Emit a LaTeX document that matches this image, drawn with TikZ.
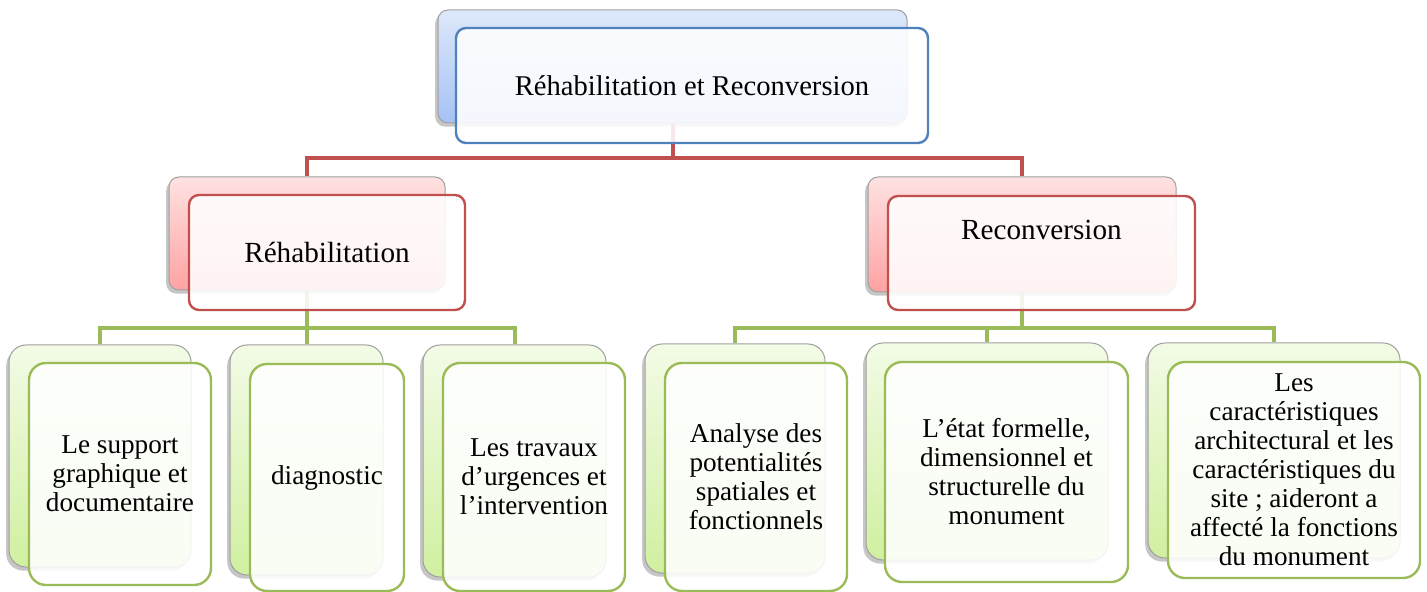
\documentclass[tikz,border=0pt]{standalone}
\usepackage{fontspec}
\setmainfont{Liberation Serif}
\usepackage{tikz}
\usetikzlibrary{backgrounds,shadows}

\definecolor{blueline}{HTML}{4F81BD}
\definecolor{redline}{HTML}{C0504D}
\definecolor{greenline}{HTML}{9BBB59}
\definecolor{blueA}{HTML}{DDE8FA}
\definecolor{blueB}{HTML}{A6C2F5}
\definecolor{redA}{HTML}{FFE2E2}
\definecolor{redB}{HTML}{FFA2A2}
\definecolor{greenA}{HTML}{F3FBE6}
\definecolor{greenB}{HTML}{D0F0A0}

\begin{document}
\begin{tikzpicture}[
  x=0.5pt, y=-0.5pt,
  back/.style={draw=gray!75, line width=0.5pt, rounded corners=5pt, inner sep=0pt,
    drop shadow={shadow xshift=-1.4pt, shadow yshift=-1.8pt, opacity=0.45}},
  front/.style={line width=1.2pt, rounded corners=5pt, fill=white, fill opacity=0.88,
    text opacity=1, inner sep=0pt, align=center},
  bback/.style={back, top color=blueA, bottom color=blueB},
  rback/.style={back, top color=redA, bottom color=redB},
  gback/.style={back, top color=greenA, bottom color=greenB, rounded corners=8.5pt},
  bfront/.style={front, draw=blueline, font=\fontsize{14.3}{17}\selectfont},
  rfront/.style={front, draw=redline, font=\fontsize{14.6}{17}\selectfont},
  gfront/.style={front, draw=greenline, rounded corners=8.5pt, font=\fontsize{13.6}{14.5}\selectfont},
  redlink/.style={draw=redline, line width=2pt},
  greenlink/.style={draw=greenline, line width=2pt}
]
\useasboundingbox (0,0) rectangle (1427,592);

% top
\node[bback, minimum width=234.5pt, minimum height=56.5pt] (topB) at (672.5,66.5) {};
\node[bfront, minimum width=236pt, minimum height=57.5pt] (topF) at (692,85.5) {Réhabilitation et Reconversion};

% second level
\node[rback, minimum width=138pt, minimum height=56.5pt] (rehabB) at (307,233.5) {};
\node[rfront, minimum width=138pt, minimum height=57.5pt] (rehabF) at (327,252.5) {Réhabilitation};
\node[rback, minimum width=154pt, minimum height=57.5pt] (reconB) at (1022,234.5) {};
\node[rfront, minimum width=153.5pt, minimum height=57pt, text depth=23pt] (reconF) at (1041.5,253) {Reconversion};

% leaves
\node[gback, minimum width=91pt, minimum height=111pt] (supportB) at (100,456) {};
\node[gfront, minimum width=91pt, minimum height=111pt] (supportF) at (120,474) {Le support\\graphique et\\documentaire};
\node[gback, minimum width=76.5pt, minimum height=115pt] (diagB) at (306.5,460) {};
\node[gfront, minimum width=77pt, minimum height=113.5pt] (diagF) at (327,477.5) {diagnostic};
\node[gback, minimum width=91.5pt, minimum height=116pt] (travauxB) at (514.5,461) {};
\node[gfront, minimum width=91pt, minimum height=114pt] (travauxF) at (534,477) {Les travaux\\d’urgences et\\l’intervention};
\node[gback, minimum width=90pt, minimum height=114.5pt] (analyseB) at (735,458.5) {};
\node[gfront, minimum width=91pt, minimum height=114pt] (analyseF) at (756,477) {Analyse des\\potentialités\\spatiales et\\fonctionnels};
\node[gback, minimum width=121pt, minimum height=108.5pt] (etatB) at (987,451.5) {};
\node[gfront, minimum width=121.5pt, minimum height=110pt] (etatF) at (1006.5,472) {L’état formelle,\\dimensionnel et\\structurelle du\\monument};
\node[gback, minimum width=126pt, minimum height=107.5pt] (caractB) at (1274,450.5) {};
\node[gfront, minimum width=126pt, minimum height=108pt] (caractF) at (1294,470) {Les\\caractéristiques\\architectural et les\\caractéristiques du\\site ; aideront a\\affecté la fonctions\\du monument};

% connectors
\begin{scope}[on background layer]
  \draw[redlink] (topB.south) -- ++(0,35) -| (rehabB.north);
  \draw[redlink] (topB.south) -- ++(0,35) -| (reconB.north);
  \draw[greenlink] (rehabB.south) -- ++(0,38) -| (supportB.north);
  \draw[greenlink] (rehabB.south) -- ++(0,38) -| (diagB.north);
  \draw[greenlink] (rehabB.south) -- ++(0,38) -| (travauxB.north);
  \draw[greenlink] (reconB.south) -- ++(0,36) -| (analyseB.north);
  \draw[greenlink] (reconB.south) -- ++(0,36) -| (etatB.north);
  \draw[greenlink] (reconB.south) -- ++(0,36) -| (caractB.north);
\end{scope}
\end{tikzpicture}
\end{document}
